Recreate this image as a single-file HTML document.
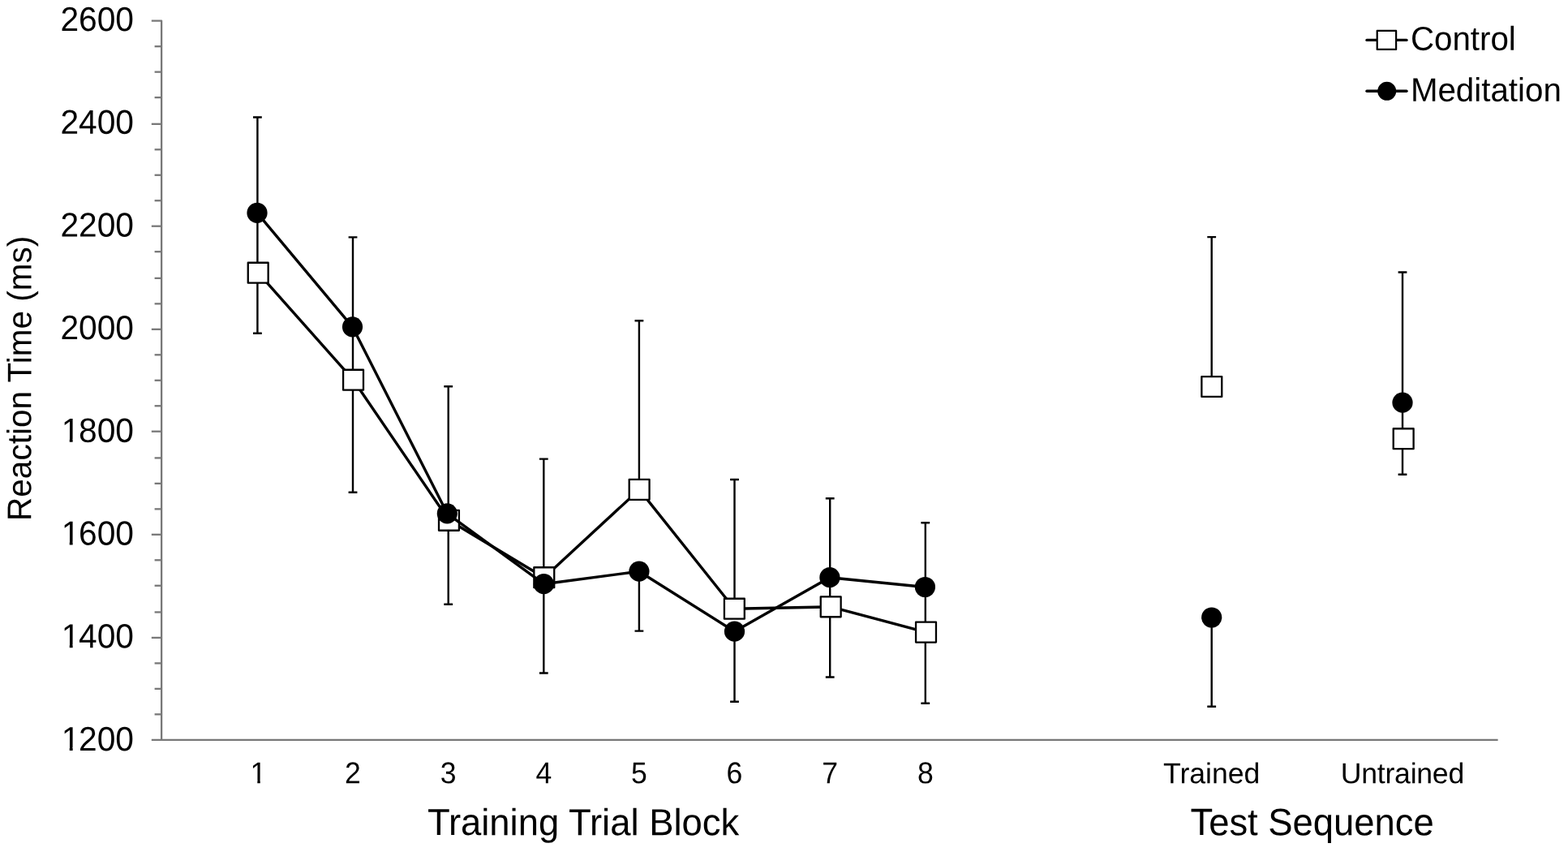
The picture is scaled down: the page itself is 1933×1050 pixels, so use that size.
<!DOCTYPE html>
<html lang="en">
<head>
<meta charset="utf-8">
<title>Reaction Time by Training Trial Block and Test Sequence</title>
<style>
html,body{margin:0;padding:0;background:#fff;}
body{width:1933px;height:1050px;overflow:hidden;}
svg{display:block;}
text{font-family:"Liberation Sans",Arial,Helvetica,sans-serif;fill:#000;}
.yl{font-size:40.7px;text-anchor:start;}
.xl{font-size:35.6px;text-anchor:middle;}
.ti{font-size:45.4px;text-anchor:middle;}
.yt{font-size:40.5px;text-anchor:start;}
.lg{font-size:40.3px;text-anchor:start;}
.ax{stroke:#787878;stroke-width:2.3;fill:none;}
.eb{stroke:#000;stroke-width:2.4;fill:none;}
.ln{stroke:#000;stroke-width:3.4;fill:none;stroke-linejoin:round;stroke-linecap:round;}
.sq{fill:#fff;stroke:#000;stroke-width:2.3;stroke-linejoin:round;}
.ci{fill:#000;stroke:none;}
</style>
</head>
<body>
<svg width="1933" height="1050" viewBox="0 0 1933 1050">
<rect x="0" y="0" width="1933" height="1050" fill="#fff"/>
<defs><clipPath id="c1" clipPathUnits="userSpaceOnUse"><rect x="-200" y="-80" width="400" height="76.26"/><rect x="11.28" y="-4.24" width="3.90" height="13.74"/><rect x="22.94" y="-4.24" width="200" height="23.74"/></clipPath><clipPath id="c2" clipPathUnits="userSpaceOnUse"><rect x="-200" y="-80" width="400" height="76.64"/><rect x="-1.10" y="-3.86" width="3.45" height="13.36"/><rect x="10.20" y="-3.86" width="200" height="23.36"/></clipPath></defs>
<g class="ax">
<path stroke-linejoin="round" d="M186.8 25.72H199.1V911.84"/>
<line x1="186.8" y1="911.84" x2="1846.6" y2="911.84"/>
<line x1="190.6" y1="57.20" x2="199.1" y2="57.20"/>
<line x1="190.6" y1="88.67" x2="199.1" y2="88.67"/>
<line x1="190.6" y1="120.14" x2="199.1" y2="120.14"/>
<line x1="186.8" y1="152.83" x2="199.1" y2="152.83"/>
<line x1="190.6" y1="184.30" x2="199.1" y2="184.30"/>
<line x1="190.6" y1="215.77" x2="199.1" y2="215.77"/>
<line x1="190.6" y1="247.24" x2="199.1" y2="247.24"/>
<line x1="186.8" y1="278.72" x2="199.1" y2="278.72"/>
<line x1="190.6" y1="310.19" x2="199.1" y2="310.19"/>
<line x1="190.6" y1="342.87" x2="199.1" y2="342.87"/>
<line x1="190.6" y1="374.35" x2="199.1" y2="374.35"/>
<line x1="186.8" y1="405.82" x2="199.1" y2="405.82"/>
<line x1="190.6" y1="437.29" x2="199.1" y2="437.29"/>
<line x1="190.6" y1="468.77" x2="199.1" y2="468.77"/>
<line x1="190.6" y1="500.24" x2="199.1" y2="500.24"/>
<line x1="186.8" y1="531.71" x2="199.1" y2="531.71"/>
<line x1="190.6" y1="564.40" x2="199.1" y2="564.40"/>
<line x1="190.6" y1="595.87" x2="199.1" y2="595.87"/>
<line x1="190.6" y1="627.34" x2="199.1" y2="627.34"/>
<line x1="186.8" y1="658.81" x2="199.1" y2="658.81"/>
<line x1="190.6" y1="690.29" x2="199.1" y2="690.29"/>
<line x1="190.6" y1="721.76" x2="199.1" y2="721.76"/>
<line x1="190.6" y1="754.44" x2="199.1" y2="754.44"/>
<line x1="186.8" y1="785.92" x2="199.1" y2="785.92"/>
<line x1="190.6" y1="817.39" x2="199.1" y2="817.39"/>
<line x1="190.6" y1="848.86" x2="199.1" y2="848.86"/>
<line x1="190.6" y1="880.34" x2="199.1" y2="880.34"/>
</g>
<g class="yl">
<text transform="translate(74.46 38.0) rotate(0.03) scale(1 1.03)">2600</text>
<text transform="translate(74.46 164.7) rotate(0.03) scale(1 1.03)">2400</text>
<text transform="translate(74.46 291.4) rotate(0.03) scale(1 1.03)">2200</text>
<text transform="translate(74.46 418.1) rotate(0.03) scale(1 1.03)">2000</text>
<text clip-path="url(#c1)" transform="translate(74.46 544.8) rotate(0.03) scale(1 1.03)"><tspan x="1.2">1</tspan><tspan x="22.64">800</tspan></text>
<text clip-path="url(#c1)" transform="translate(74.46 671.5) rotate(0.03) scale(1 1.03)"><tspan x="1.2">1</tspan><tspan x="22.64">600</tspan></text>
<text clip-path="url(#c1)" transform="translate(74.46 798.2) rotate(0.03) scale(1 1.03)"><tspan x="1.2">1</tspan><tspan x="22.64">400</tspan></text>
<text clip-path="url(#c1)" transform="translate(74.46 924.9) rotate(0.03) scale(1 1.03)"><tspan x="1.2">1</tspan><tspan x="22.64">200</tspan></text>
</g>
<g class="xl">
<text clip-path="url(#c2)" transform="translate(318.4 965.3) rotate(0.03) scale(1 1.045)">1</text>
<text transform="translate(435.0 965.3) rotate(0.03) scale(1 1.045)">2</text>
<text transform="translate(552.7 965.3) rotate(0.03) scale(1 1.045)">3</text>
<text transform="translate(670.3 965.3) rotate(0.03) scale(1 1.045)">4</text>
<text transform="translate(787.9 965.3) rotate(0.03) scale(1 1.045)">5</text>
<text transform="translate(905.5 965.3) rotate(0.03) scale(1 1.045)">6</text>
<text transform="translate(1023.2 965.3) rotate(0.03) scale(1 1.045)">7</text>
<text transform="translate(1140.8 965.3) rotate(0.03) scale(1 1.045)">8</text>
<text transform="translate(1493.7 965.3) rotate(0.03)">Trained</text>
<text transform="translate(1729.0 965.3) rotate(0.03)" textLength="152.4" lengthAdjust="spacing">Untrained</text>
</g>
<text class="ti" transform="translate(719 1029.2) rotate(0.03) scale(1 1.02)">Training Trial Block</text>
<text class="ti" transform="translate(1617.6 1029.2) rotate(0.03) scale(1 1.03)">Test Sequence</text>
<text class="yt" transform="translate(38.3 641.9) rotate(-89.97) scale(1 1.03)">Reaction Time (ms)</text>
<g class="eb">
<path d="M312.0 144.5H322.8M317.4 144.5V262.4M317.4 336.2V410.7M312.0 410.7H322.8"/>
<path d="M317.4 262.4V336.2"/>
<path d="M429.6 292.4H440.4M435.0 292.4V402.8M435.0 468.2V606.7M429.6 606.7H440.4"/>
<path d="M435.0 402.8V468.2"/>
<path d="M547.3 476.3H558.1M552.7 476.3V632.8M552.7 641.3V744.8M547.3 744.8H558.1"/>
<path d="M552.7 632.8V641.3"/>
<path d="M664.9 565.6H675.7M670.3 565.6V711.7M670.3 719.7V829.5M664.9 829.5H675.7"/>
<path d="M782.5 395.2H793.3M787.9 395.2V603.4M787.9 704.2V777.6M782.5 777.6H793.3"/>
<path d="M900.1 591.0H910.9M905.5 591.0V750.2M905.5 778.2V864.7M900.1 864.7H910.9"/>
<path d="M1017.8 614.2H1028.6M1023.2 614.2V711.7M1023.2 747.8V834.5M1017.8 834.5H1028.6"/>
<path d="M1023.2 711.7V747.8"/>
<path d="M1135.4 644.2H1146.2M1140.8 644.2V723.5M1140.8 779.1V866.8M1135.4 866.8H1146.2"/>
<path d="M1140.8 723.5V779.1"/>
<path d="M1488.3 292.1H1499.1M1493.7 292.1V476.5M1493.7 761.0V870.7M1488.3 870.7H1499.1"/>
<path d="M1723.6 335.5H1734.4M1729.0 335.5V496.2M1729.0 540.7V584.8M1723.6 584.8H1734.4"/>
<path d="M1729.0 496.2V540.7"/>
</g>
<polyline class="ln" points="318.2,336.2 435.5,468.2 553.5,641.3 670.8,711.7 788.1,603.4 905.3,750.2 1024.2,747.8 1141.5,779.1"/>
<g class="sq">
<rect x="305.75" y="323.75" width="24.9" height="24.9"/>
<rect x="423.08" y="455.75" width="24.9" height="24.9"/>
<rect x="541.01" y="628.85" width="24.9" height="24.9"/>
<rect x="658.34" y="699.25" width="24.9" height="24.9"/>
<rect x="775.67" y="590.95" width="24.9" height="24.9"/>
<rect x="892.90" y="737.75" width="24.9" height="24.9"/>
<rect x="1011.73" y="735.35" width="24.9" height="24.9"/>
<rect x="1129.06" y="766.65" width="24.9" height="24.9"/>
<rect x="1481.35" y="464.05" width="24.9" height="24.9"/>
<rect x="1717.71" y="528.25" width="24.9" height="24.9"/>
</g>
<polyline class="ln" points="317.0,262.4 434.5,402.8 551.3,632.8 670.4,719.7 787.9,704.2 905.5,778.2 1022.9,711.7 1140.4,723.5"/>
<g class="ci">
<circle cx="317.0" cy="262.4" r="12.6"/>
<circle cx="434.5" cy="402.8" r="12.6"/>
<circle cx="551.3" cy="632.8" r="12.6"/>
<circle cx="670.4" cy="719.7" r="12.6"/>
<circle cx="787.9" cy="704.2" r="12.6"/>
<circle cx="905.5" cy="778.2" r="12.6"/>
<circle cx="1022.9" cy="711.7" r="12.6"/>
<circle cx="1140.4" cy="723.5" r="12.6"/>
<circle cx="1493.7" cy="761.0" r="12.6"/>
<circle cx="1729.0" cy="496.2" r="12.6"/>
</g>
<line class="ln" x1="1685" y1="49.4" x2="1734" y2="49.4"/>
<rect class="sq" style="stroke-width:2.2" x="1697.7" y="37.9" width="23.4" height="23"/>
<text class="lg" transform="translate(1738.9 61.8) rotate(0.03) scale(1 1.025)">Control</text>
<line class="ln" x1="1685" y1="112.3" x2="1734" y2="112.3"/>
<circle class="ci" cx="1709.7" cy="112.3" r="11.5"/>
<text class="lg" transform="translate(1738.9 124.7) rotate(0.03) scale(1 1.015)">Meditation</text>
</svg>
</body>
</html>
